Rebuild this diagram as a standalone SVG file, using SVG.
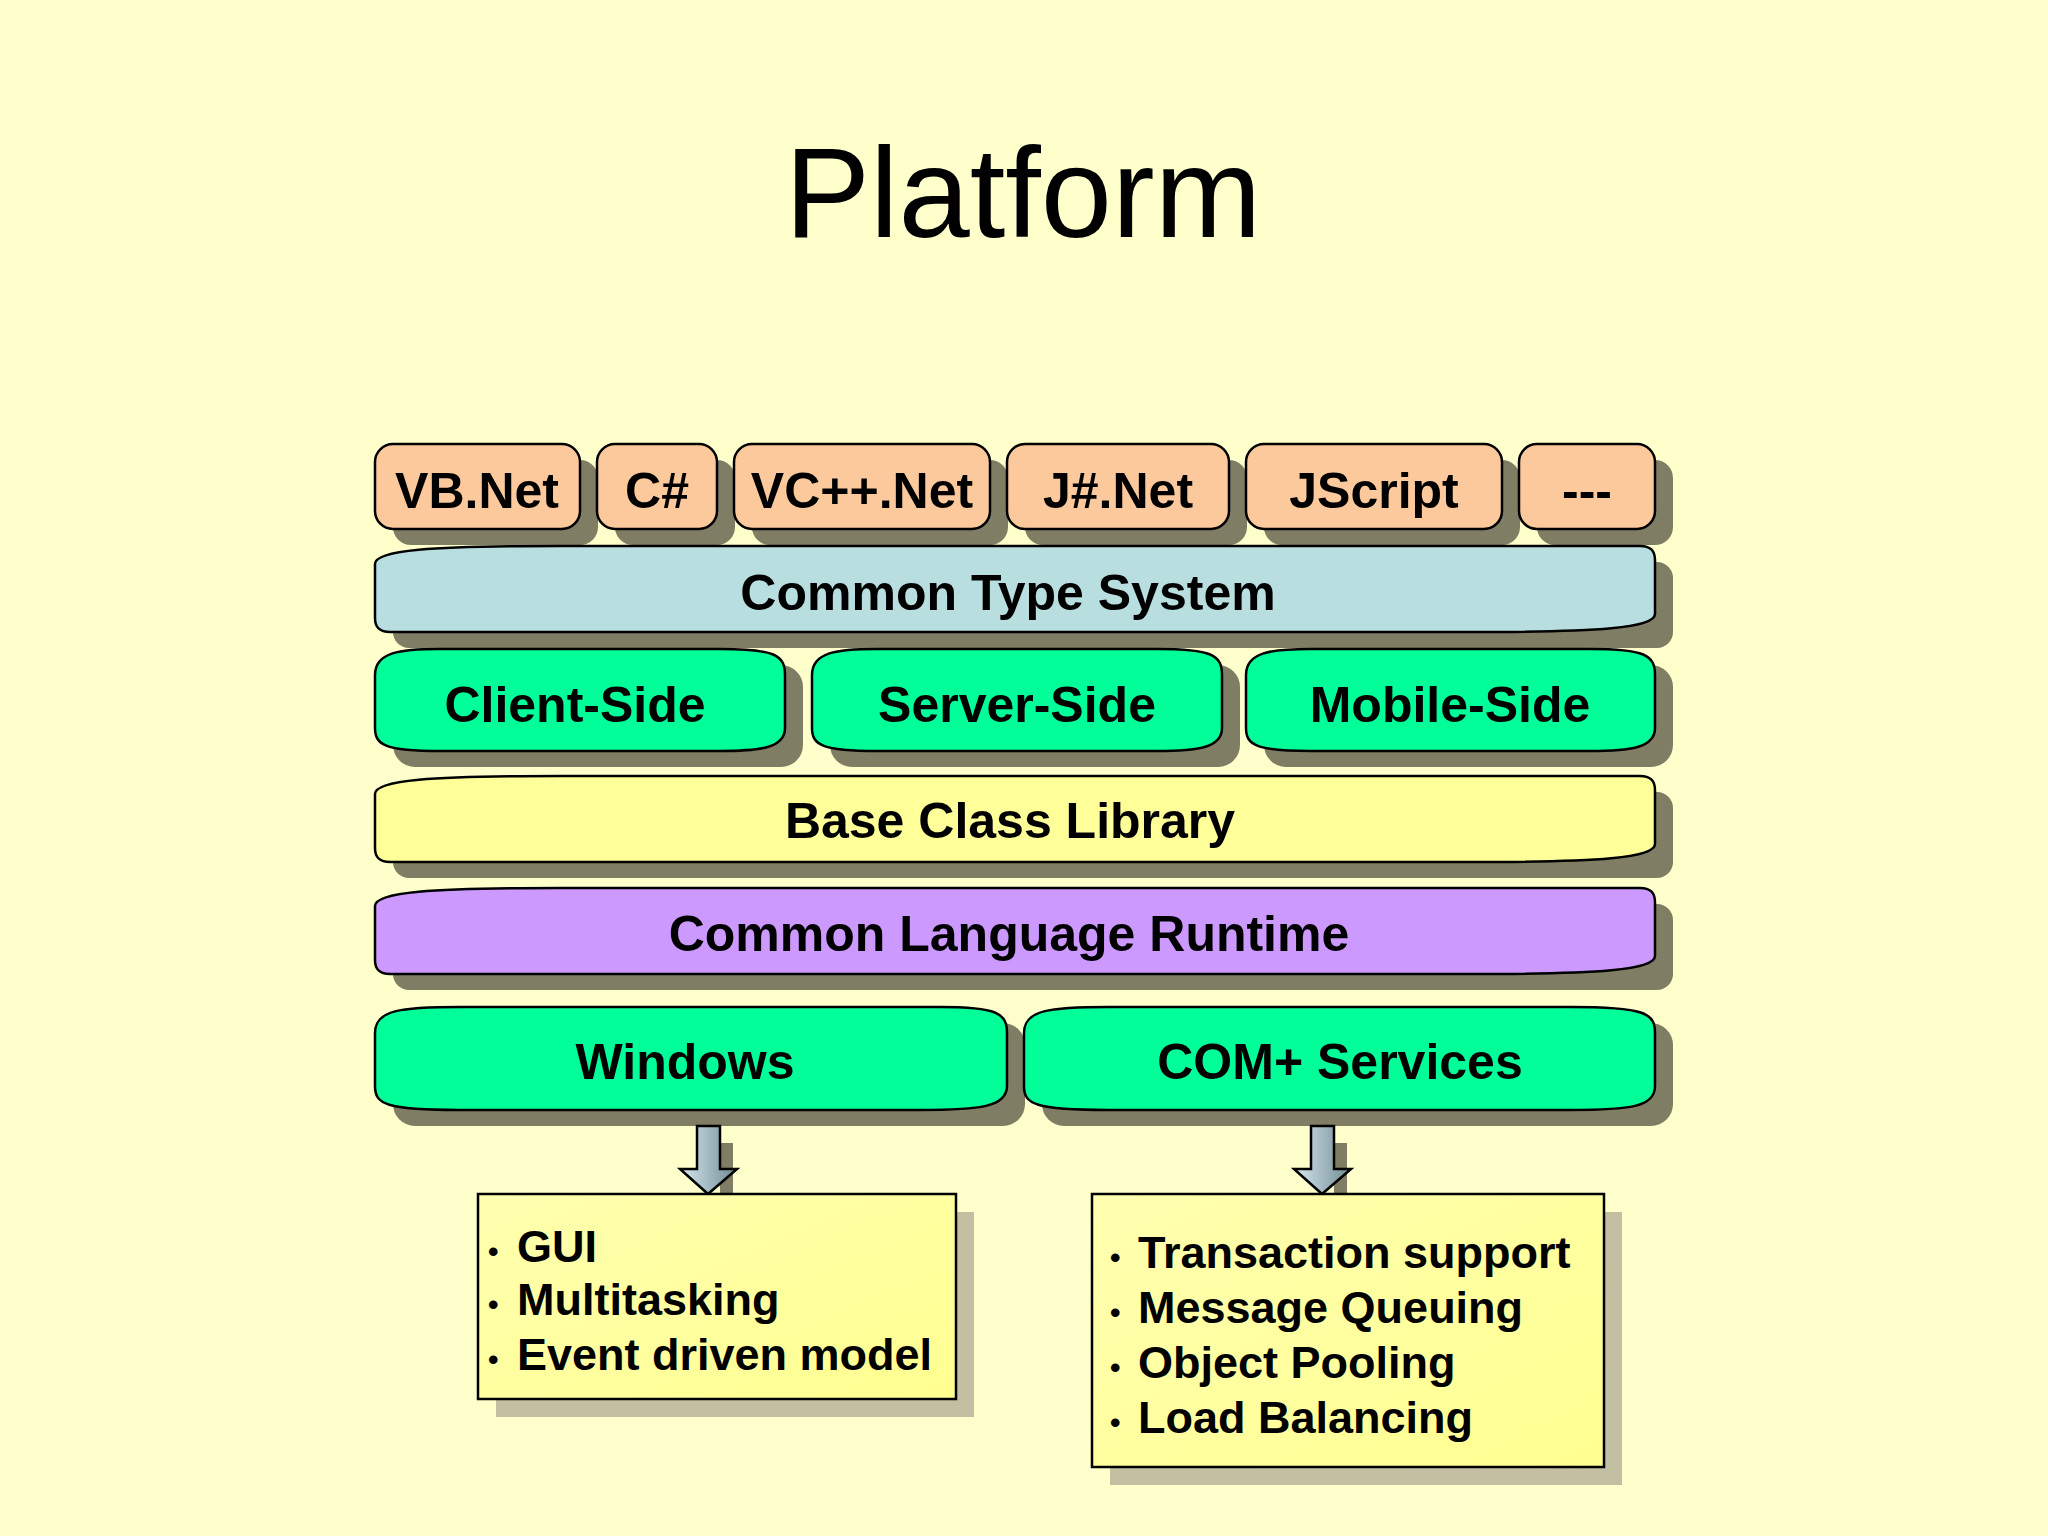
<svg xmlns="http://www.w3.org/2000/svg" width="2048" height="1536" viewBox="0 0 2048 1536">
<defs>
<style>
.t{font-family:"Liberation Sans",Arial,sans-serif;font-weight:bold;fill:#000;text-anchor:middle;font-size:50px}
.b{font-family:"Liberation Sans",Arial,sans-serif;font-weight:bold;fill:#000;font-size:45px}
.o{stroke:#000;stroke-width:2.5}
.sh{fill:#7f7d63}
</style>
<linearGradient id="ar" x1="0" x2="1" y1="0" y2="0"><stop offset="0" stop-color="#d8e8f0"/><stop offset="1" stop-color="#6f8a92"/></linearGradient>
<linearGradient id="bx" x1="0" x2="1" y1="0" y2="1"><stop offset="0" stop-color="#ffffb0"/><stop offset="1" stop-color="#ffff90"/></linearGradient>
</defs>
<rect width="2048" height="1536" fill="#ffffcc"/>
<text x="1023" y="237" font-family="Liberation Sans,Arial,sans-serif" font-size="128" text-anchor="middle">Platform</text>
<g id="vb"><rect class="sh" x="393" y="460" width="205" height="85" rx="18"/><rect class="o" x="375" y="444" width="205" height="85" rx="18" fill="#fbc99c"/><text class="t" x="477" y="508">VB.Net</text></g>
<g id="cs"><rect class="sh" x="615" y="460" width="120" height="85" rx="18"/><rect class="o" x="597" y="444" width="120" height="85" rx="18" fill="#fbc99c"/><text class="t" x="657" y="508">C#</text></g>
<g id="vc"><rect class="sh" x="752" y="460" width="256" height="85" rx="18"/><rect class="o" x="734" y="444" width="256" height="85" rx="18" fill="#fbc99c"/><text class="t" x="862" y="508">VC++.Net</text></g>
<g id="js"><rect class="sh" x="1025" y="460" width="222" height="85" rx="18"/><rect class="o" x="1007" y="444" width="222" height="85" rx="18" fill="#fbc99c"/><text class="t" x="1118" y="508">J#.Net</text></g>
<g id="jscript"><rect class="sh" x="1264" y="460" width="256" height="85" rx="18"/><rect class="o" x="1246" y="444" width="256" height="85" rx="18" fill="#fbc99c"/><text class="t" x="1374" y="508">JScript</text></g>
<g id="more"><rect class="sh" x="1537" y="460" width="136" height="85" rx="18"/><rect class="o" x="1519" y="444" width="136" height="85" rx="18" fill="#fbc99c"/><text class="t" x="1587" y="508">---</text></g>
<g id="cts"><rect class="sh" x="393" y="562" width="1280" height="86" rx="16"/><path class="o" fill="#b8dee0" d="M375,564 C375,550 430,546 560,546 L1640,546 C1650,546 1655,550 1655,560 L1655,614 C1655,628 1600,632 1470,632 L390,632 C380,632 375,628 375,618 Z"/><text class="t" x="1008" y="610">Common Type System</text></g>
<g id="client"><rect class="sh" x="393" y="665" width="410" height="102" rx="22"/><path class="o" fill="#00ff99" d="M375,675 C375,652 400,649 440,649 L720,649 C775,649 785,655 785,675 L785,728 C785,748 760,751 720,751 L440,751 C385,751 375,745 375,728 Z"/><text class="t" x="575" y="722">Client-Side</text></g>
<g id="server"><rect class="sh" x="830" y="665" width="410" height="102" rx="22"/><path class="o" fill="#00ff99" d="M812,675 C812,652 837,649 877,649 L1157,649 C1212,649 1222,655 1222,675 L1222,728 C1222,748 1197,751 1157,751 L877,751 C822,751 812,745 812,728 Z"/><text class="t" x="1017" y="722">Server-Side</text></g>
<g id="mobile"><rect class="sh" x="1264" y="665" width="409" height="102" rx="22"/><path class="o" fill="#00ff99" d="M1246,675 C1246,652 1271,649 1311,649 L1590,649 C1645,649 1655,655 1655,675 L1655,728 C1655,748 1630,751 1590,751 L1311,751 C1256,751 1246,745 1246,728 Z"/><text class="t" x="1450" y="722">Mobile-Side</text></g>
<g id="bcl"><rect class="sh" x="393" y="792" width="1280" height="86" rx="16"/><path class="o" fill="#ffff99" d="M375,794 C375,780 430,776 560,776 L1640,776 C1650,776 1655,780 1655,790 L1655,844 C1655,858 1600,862 1470,862 L390,862 C380,862 375,858 375,848 Z"/><text class="t" x="1010" y="838">Base Class Library</text></g>
<g id="clr"><rect class="sh" x="393" y="904" width="1280" height="86" rx="16"/><path class="o" fill="#cc99ff" d="M375,906 C375,892 430,888 560,888 L1640,888 C1650,888 1655,892 1655,902 L1655,956 C1655,970 1600,974 1470,974 L390,974 C380,974 375,970 375,960 Z"/><text class="t" x="1009" y="951">Common Language Runtime</text></g>
<g id="windows"><rect class="sh" x="393" y="1023" width="632" height="103" rx="22"/><path class="o" fill="#00ff99" d="M375,1033 C375,1010 400,1007 460,1007 L940,1007 C997,1007 1007,1013 1007,1033 L1007,1086 C1007,1107 980,1110 920,1110 L460,1110 C385,1110 375,1104 375,1086 Z"/><text class="t" x="685" y="1079">Windows</text></g>
<g id="com"><rect class="sh" x="1042" y="1023" width="631" height="103" rx="22"/><path class="o" fill="#00ff99" d="M1024,1033 C1024,1010 1049,1007 1109,1007 L1570,1007 C1645,1007 1655,1013 1655,1033 L1655,1086 C1655,1107 1630,1110 1570,1110 L1109,1110 C1034,1110 1024,1104 1024,1086 Z"/><text class="t" x="1340" y="1079">COM+ Services</text></g>
<g id="connectors">
<rect x="720" y="1143" width="13" height="51" fill="#7f7d63"/>
<path class="o" stroke-width="2" fill="url(#ar)" d="M697,1126 L720,1126 L720,1169 L737,1169 L708,1194 L680,1169 L697,1169 Z"/>
<rect x="1334" y="1143" width="13" height="51" fill="#7f7d63"/>
<path class="o" stroke-width="2" fill="url(#ar)" d="M1311,1126 L1334,1126 L1334,1169 L1351,1169 L1322,1194 L1294,1169 L1311,1169 Z"/>
</g>
<g id="winbox"><rect x="496" y="1212" width="478" height="205" fill="#c2bfa2"/><rect class="o" x="478" y="1194" width="478" height="205" fill="url(#bx)"/>
<text class="b"><tspan x="488" y="1262" font-size="30">•</tspan><tspan x="517" y="1262">GUI</tspan><tspan x="488" y="1315" font-size="30">•</tspan><tspan x="517" y="1315">Multitasking</tspan><tspan x="488" y="1370" font-size="30">•</tspan><tspan x="517" y="1370">Event driven model</tspan></text></g>
<g id="combox"><rect x="1110" y="1212" width="512" height="273" fill="#c2bfa2"/><rect class="o" x="1092" y="1194" width="512" height="273" fill="url(#bx)"/>
<text class="b"><tspan x="1110" y="1268" font-size="30">•</tspan><tspan x="1138" y="1268">Transaction support</tspan><tspan x="1110" y="1323" font-size="30">•</tspan><tspan x="1138" y="1323">Message Queuing</tspan><tspan x="1110" y="1378" font-size="30">•</tspan><tspan x="1138" y="1378">Object Pooling</tspan><tspan x="1110" y="1433" font-size="30">•</tspan><tspan x="1138" y="1433">Load Balancing</tspan></text></g>
</svg>
